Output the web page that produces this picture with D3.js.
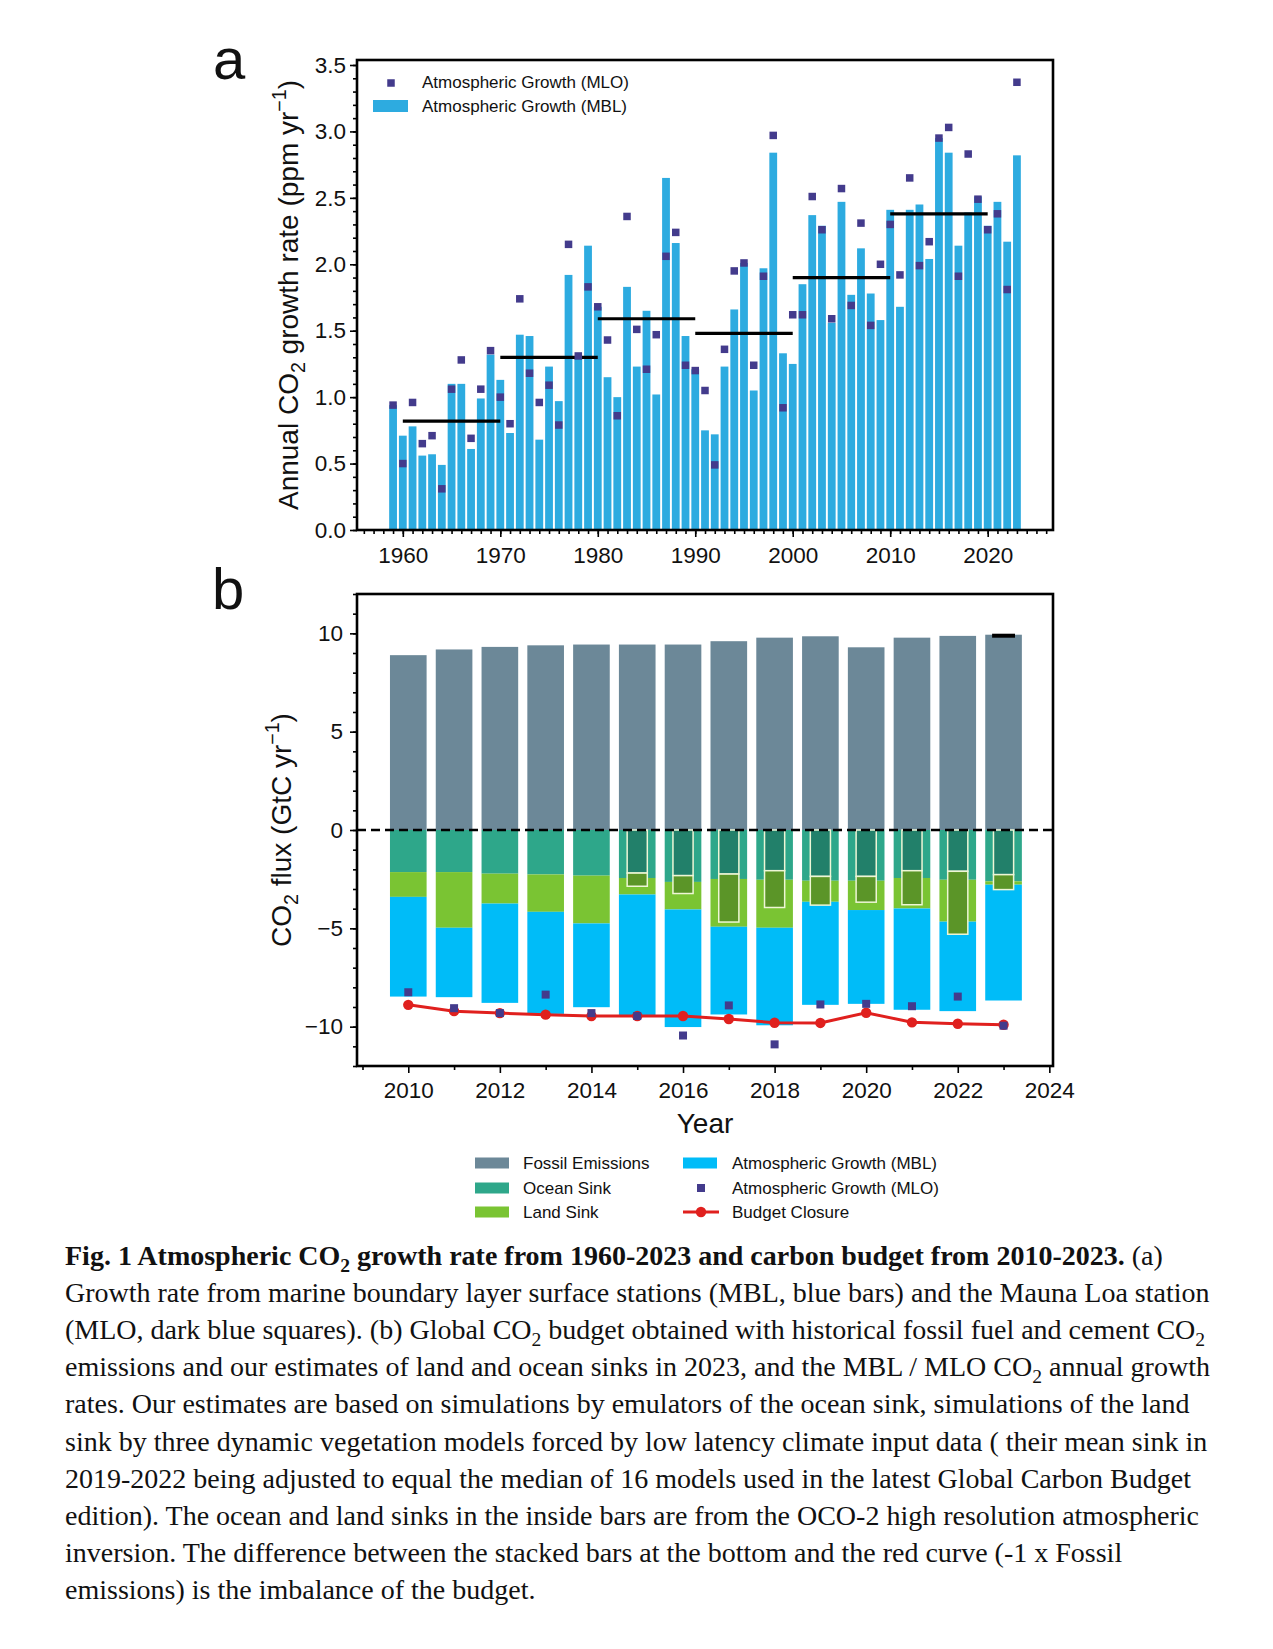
<!DOCTYPE html>
<html>
<head>
<meta charset="utf-8">
<script src="https://cdn.jsdelivr.net/npm/d3@7"></script>
<style>
  body { margin: 0; background: #fff; }
  svg { display: block; font-family: Arial, "Liberation Sans", sans-serif; }
</style>
</head>
<body>
<svg id="fig" width="1273" height="1649"></svg>
<script>
// ---- Panel a: annual growth rate (ppm / yr) ----
const yearsA = [1959, 1960, 1961, 1962, 1963, 1964, 1965, 1966, 1967, 1968, 1969,
    1970, 1971, 1972, 1973, 1974, 1975, 1976, 1977, 1978, 1979,
    1980, 1981, 1982, 1983, 1984, 1985, 1986, 1987, 1988, 1989,
    1990, 1991, 1992, 1993, 1994, 1995, 1996, 1997, 1998, 1999,
    2000, 2001, 2002, 2003, 2004, 2005, 2006, 2007, 2008, 2009,
    2010, 2011, 2012, 2013, 2014, 2015, 2016, 2017, 2018, 2019,
    2020, 2021, 2022, 2023];
const growthMBL = [0.94, 0.71, 0.78, 0.56, 0.57, 0.49, 1.10, 1.10, 0.61, 0.99, 1.32,
    1.13, 0.73, 1.47, 1.46, 0.68, 1.23, 0.97, 1.92, 1.31, 2.14,
    1.68, 1.15, 1.00, 1.83, 1.23, 1.65, 1.02, 2.65, 2.16, 1.46,
    1.21, 0.75, 0.72, 1.23, 1.66, 2.01, 1.05, 1.97, 2.84, 1.33,
    1.25, 1.85, 2.37, 2.29, 1.56, 2.47, 1.77, 2.12, 1.78, 1.58,
    2.41, 1.68, 2.41, 2.45, 2.04, 2.95, 2.84, 2.14, 2.39, 2.51,
    2.29, 2.47, 2.17, 2.82];
const growthMLO = [0.94, 0.50, 0.96, 0.65, 0.71, 0.31, 1.06, 1.28, 0.69, 1.06, 1.35,
    1.00, 0.80, 1.74, 1.18, 0.96, 1.09, 0.79, 2.15, 1.31, 1.83,
    1.68, 1.43, 0.86, 2.36, 1.51, 1.21, 1.47, 2.06, 2.24, 1.24,
    1.20, 1.05, 0.49, 1.36, 1.95, 2.01, 1.24, 1.91, 2.97, 0.92,
    1.62, 1.62, 2.51, 2.26, 1.59, 2.57, 1.69, 2.31, 1.54, 2.00,
    2.30, 1.92, 2.65, 1.99, 2.17, 2.95, 3.03, 1.91, 2.83, 2.49,
    2.26, 2.38, 1.81, 3.37];
const decadeStart = [1960, 1970, 1980, 1990, 2000, 2010];
const decadeEnd = [1970, 1980, 1990, 2000, 2010, 2020];
const decadeMean = [0.82, 1.30, 1.59, 1.48, 1.90, 2.38];

// ---- Panel b: carbon budget (GtC / yr) ----
const yearsB = [2010, 2011, 2012, 2013, 2014, 2015, 2016, 2017, 2018, 2019, 2020, 2021, 2022, 2023];
const fossil = [8.89, 9.18, 9.31, 9.39, 9.43, 9.43, 9.43, 9.60, 9.78, 9.85, 9.29, 9.78, 9.87, 9.93];
const oceanSink = [2.14, 2.14, 2.22, 2.26, 2.32, 2.44, 2.64, 2.49, 2.53, 2.58, 2.58, 2.44, 2.53, 2.61];
const landSink = [1.26, 2.83, 1.52, 1.90, 2.43, 0.84, 1.40, 2.43, 2.44, 1.07, 1.49, 1.55, 2.13, 0.17];
const atmGrowthMBL = [5.07, 3.53, 5.05, 5.19, 4.26, 6.17, 5.98, 4.46, 4.96, 5.24, 4.77, 5.15, 4.55, 5.89];
const atmGrowthMLOb = [-8.25, -9.06, -9.31, -8.37, -9.31, -9.46, -10.45, -8.92, -10.9, -8.87, -8.84, -8.96, -8.47, -9.95];
const budgetClosure = [-8.89, -9.21, -9.31, -9.39, -9.46, -9.46, -9.46, -9.61, -9.80, -9.81, -9.29, -9.78, -9.85, -9.90];
// OCO-2 inversion (inside bars)
const yearsInner = [2015, 2016, 2017, 2018, 2019, 2020, 2021, 2022, 2023];
const oceanInner = [2.19, 2.32, 2.24, 2.07, 2.36, 2.36, 2.07, 2.10, 2.27];
const landInner = [0.67, 0.91, 2.44, 1.87, 1.46, 1.31, 1.73, 3.20, 0.76];

const colors = {
    mblA: "#2dabe0",
    mlo: "#433b8c",
    fossil: "#6c8898",
    ocean: "#2ea78a",
    land: "#7ac433",
    atm: "#00bcf8",
    oceanIn: "#22806a",
    landIn: "#5b9528",
    red: "#e0201e"
};

const TICK_FS = 22.5;
const LABEL_FS = 28;

const svg = d3.select("#fig");
svg.append("rect").attr("width", 1273).attr("height", 1649).attr("fill", "#fff");

// rich text helper: parts = [text, "sub"|"sup"|null, bold]
function addRich(text, parts, fs) {
    let off = 0;
    parts.forEach(([str, kind, bold]) => {
        const target = kind === "sub" ? fs * 0.25 : kind === "sup" ? -fs * 0.42 : 0;
        text.append("tspan")
            .attr("dy", target - off)
            .attr("font-size", kind ? fs * 0.7 : fs)
            .attr("font-weight", bold ? "bold" : null)
            .text(str);
        off = target;
    });
}

function styleAxis(g, fs) {
    g.select(".domain").remove();
    g.selectAll(".tick line").attr("stroke", "#000").attr("stroke-width", 1.6);
    g.selectAll(".tick text").attr("font-size", fs).attr("fill", "#111")
        .attr("font-family", "Arial, 'Liberation Sans', sans-serif");
}

// ================= Panel a =================
const A = { left: 357, right: 1053, top: 60, bottom: 530 };
const xA = d3.scaleLinear().domain([1955.3, 2026.7]).range([A.left, A.right]);
const yA = d3.scaleLinear().domain([0, 3.5376]).range([A.bottom, A.top]);
const gA = svg.append("g");

// bars (MBL)
gA.selectAll("rect.mbl")
    .data(yearsA)
    .enter()
    .append("rect")
    .attr("class", "mbl")
    .attr("x", (d) => xA(d - 0.4))
    .attr("width", xA(0.8) - xA(0))
    .attr("y", (d, i) => yA(growthMBL[i]))
    .attr("height", (d, i) => yA(0) - yA(growthMBL[i]))
    .attr("fill", colors.mblA);

// decadal means
gA.selectAll("line.decade")
    .data(decadeMean)
    .enter()
    .append("line")
    .attr("x1", (d, i) => xA(decadeStart[i]))
    .attr("x2", (d, i) => xA(decadeEnd[i]))
    .attr("y1", (d) => yA(d))
    .attr("y2", (d) => yA(d))
    .attr("stroke", "#000")
    .attr("stroke-width", 3.2);

// MLO squares
const sqA = 7.5;
gA.selectAll("rect.mlo")
    .data(yearsA)
    .enter()
    .append("rect")
    .attr("x", (d) => xA(d) - sqA / 2)
    .attr("y", (d, i) => yA(growthMLO[i]) - sqA / 2)
    .attr("width", sqA)
    .attr("height", sqA)
    .attr("fill", colors.mlo);

// axes
gA.append("g")
    .attr("transform", `translate(0,${A.bottom})`)
    .call(d3.axisBottom(xA).tickValues(d3.range(1956, 2027)).tickSize(4).tickFormat(""))
    .call((g) => styleAxis(g, TICK_FS));
gA.append("g")
    .attr("transform", `translate(0,${A.bottom})`)
    .call(d3.axisBottom(xA).tickValues([1960, 1970, 1980, 1990, 2000, 2010, 2020]).tickSize(7).tickPadding(10).tickFormat(d3.format("d")))
    .call((g) => styleAxis(g, TICK_FS));
gA.append("g")
    .attr("transform", `translate(${A.left},0)`)
    .call(d3.axisLeft(yA).tickValues(d3.range(0, 3.51, 0.1)).tickSize(4).tickFormat(""))
    .call((g) => styleAxis(g, TICK_FS));
gA.append("g")
    .attr("transform", `translate(${A.left},0)`)
    .call(d3.axisLeft(yA).tickValues([0, 0.5, 1, 1.5, 2, 2.5, 3, 3.5]).tickSize(7).tickPadding(4).tickFormat(d3.format(".1f")))
    .call((g) => styleAxis(g, TICK_FS));

gA.append("rect")
    .attr("x", A.left).attr("y", A.top)
    .attr("width", A.right - A.left).attr("height", A.bottom - A.top)
    .attr("fill", "none").attr("stroke", "#000").attr("stroke-width", 2.6);

// y label
const labA = gA.append("text")
    .attr("transform", `translate(298,${(A.top + A.bottom) / 2}) rotate(-90)`)
    .attr("text-anchor", "middle")
    .attr("fill", "#111");
addRich(labA, [["Annual CO"], ["2", "sub"], [" growth rate (ppm yr"], ["\u22121", "sup"], [")"]], LABEL_FS);

// legend a
gA.append("rect").attr("x", 391 - sqA / 2).attr("y", 83 - sqA / 2).attr("width", sqA).attr("height", sqA).attr("fill", colors.mlo);
gA.append("rect").attr("x", 373).attr("y", 100).attr("width", 35).attr("height", 12).attr("fill", colors.mblA);
gA.append("text").attr("x", 422).attr("y", 82).attr("dy", "0.36em").attr("font-size", 17).attr("fill", "#111").text("Atmospheric Growth (MLO)");
gA.append("text").attr("x", 422).attr("y", 106).attr("dy", "0.36em").attr("font-size", 17).attr("fill", "#111").text("Atmospheric Growth (MBL)");

svg.append("text").attr("x", 213).attr("y", 79).attr("font-size", 58).attr("fill", "#111").text("a");

// ================= Panel b =================
const B = { left: 357, right: 1053, top: 594, bottom: 1066 };
const xB = d3.scaleLinear().domain([2008.88, 2024.08]).range([B.left, B.right]);
const yB = d3.scaleLinear().domain([-12, 12]).range([B.bottom, B.top]);
const gB = svg.append("g");

const rowsB = yearsB.map((y, i) => ({
    year: y,
    fossil: fossil[i],
    ocean: -oceanSink[i],
    land: -landSink[i],
    atm: -atmGrowthMBL[i]
}));
const keysB = ["fossil", "ocean", "land", "atm"];
const stackB = d3.stack().keys(keysB).offset(d3.stackOffsetDiverging)(rowsB);
const fillB = { fossil: colors.fossil, ocean: colors.ocean, land: colors.land, atm: colors.atm };

gB.selectAll("g.layer")
    .data(stackB)
    .enter()
    .append("g")
    .attr("fill", (s) => fillB[s.key])
    .selectAll("rect")
    .data((s) => s)
    .enter()
    .append("rect")
    .attr("x", (d) => xB(d.data.year - 0.4))
    .attr("width", xB(0.8) - xB(0))
    .attr("y", (d) => yB(Math.max(d[0], d[1])))
    .attr("height", (d) => Math.abs(yB(d[0]) - yB(d[1])));

// inside bars (OCO-2)
const rowsIn = yearsInner.map((y, i) => ({ year: y, ocean: -oceanInner[i], land: -landInner[i] }));
const stackIn = d3.stack().keys(["ocean", "land"]).offset(d3.stackOffsetDiverging)(rowsIn);
const fillIn = { ocean: colors.oceanIn, land: colors.landIn };
gB.selectAll("g.inner")
    .data(stackIn)
    .enter()
    .append("g")
    .attr("fill", (s) => fillIn[s.key])
    .selectAll("rect")
    .data((s) => s)
    .enter()
    .append("rect")
    .attr("x", (d) => xB(d.data.year - 0.22))
    .attr("width", xB(0.44) - xB(0))
    .attr("y", (d) => yB(Math.max(d[0], d[1])))
    .attr("height", (d) => Math.abs(yB(d[0]) - yB(d[1])))
    .attr("stroke", "#eef6d6")
    .attr("stroke-width", 1.5);

// fossil uncertainty mark on last year
const lastI = yearsB.length - 1;
gB.append("line")
    .attr("x1", xB(yearsB[lastI] - 0.25)).attr("x2", xB(yearsB[lastI] + 0.25))
    .attr("y1", yB(fossil[lastI]) + 1).attr("y2", yB(fossil[lastI]) + 1)
    .attr("stroke", "#000").attr("stroke-width", 4);

// zero line
gB.append("line")
    .attr("x1", B.left).attr("x2", B.right)
    .attr("y1", yB(0)).attr("y2", yB(0))
    .attr("stroke", "#000").attr("stroke-width", 2.4)
    .attr("stroke-dasharray", "9,5");

// budget closure line
gB.append("path")
    .datum(budgetClosure)
    .attr("fill", "none")
    .attr("stroke", colors.red)
    .attr("stroke-width", 3)
    .attr("d", d3.line().x((d, i) => xB(yearsB[i])).y((d) => yB(d)));
gB.selectAll("circle.closure")
    .data(budgetClosure)
    .enter()
    .append("circle")
    .attr("cx", (d, i) => xB(yearsB[i]))
    .attr("cy", (d) => yB(d))
    .attr("r", 5.2)
    .attr("fill", colors.red);

// MLO squares
const sqB = 8;
gB.selectAll("rect.mloB")
    .data(atmGrowthMLOb)
    .enter()
    .append("rect")
    .attr("x", (d, i) => xB(yearsB[i]) - sqB / 2)
    .attr("y", (d) => yB(d) - sqB / 2)
    .attr("width", sqB)
    .attr("height", sqB)
    .attr("fill", colors.mlo);

// axes
gB.append("g")
    .attr("transform", `translate(0,${B.bottom})`)
    .call(d3.axisBottom(xB).tickValues([2009, 2011, 2013, 2015, 2017, 2019, 2021, 2023]).tickSize(4).tickFormat(""))
    .call((g) => styleAxis(g, TICK_FS));
gB.append("g")
    .attr("transform", `translate(0,${B.bottom})`)
    .call(d3.axisBottom(xB).tickValues([2010, 2012, 2014, 2016, 2018, 2020, 2022, 2024]).tickSize(7).tickPadding(9).tickFormat(d3.format("d")))
    .call((g) => styleAxis(g, TICK_FS));
gB.append("g")
    .attr("transform", `translate(${B.left},0)`)
    .call(d3.axisLeft(yB).tickValues(d3.range(-12, 13, 1)).tickSize(4).tickFormat(""))
    .call((g) => styleAxis(g, TICK_FS));
gB.append("g")
    .attr("transform", `translate(${B.left},0)`)
    .call(d3.axisLeft(yB).tickValues([-10, -5, 0, 5, 10]).tickSize(7).tickPadding(7))
    .call((g) => styleAxis(g, TICK_FS));

gB.append("rect")
    .attr("x", B.left).attr("y", B.top)
    .attr("width", B.right - B.left).attr("height", B.bottom - B.top)
    .attr("fill", "none").attr("stroke", "#000").attr("stroke-width", 2.6);

const labB = gB.append("text")
    .attr("transform", `translate(291,${(B.top + B.bottom) / 2}) rotate(-90)`)
    .attr("text-anchor", "middle")
    .attr("fill", "#111");
addRich(labB, [["CO"], ["2", "sub"], [" flux (GtC yr"], ["\u22121", "sup"], [")"]], LABEL_FS);

gB.append("text")
    .attr("x", (B.left + B.right) / 2).attr("y", 1133)
    .attr("text-anchor", "middle").attr("font-size", LABEL_FS).attr("fill", "#111")
    .text("Year");

svg.append("text").attr("x", 212).attr("y", 609).attr("font-size", 58).attr("fill", "#111").text("b");

// legend b
const legB = svg.append("g").attr("font-size", 17).attr("fill", "#111");
const legRows = [1163, 1188, 1212];
[["Fossil Emissions", colors.fossil], ["Ocean Sink", colors.ocean], ["Land Sink", colors.land]].forEach(([t, c], i) => {
    legB.append("rect").attr("x", 475).attr("y", legRows[i] - 5.5).attr("width", 34).attr("height", 11).attr("fill", c);
    legB.append("text").attr("x", 523).attr("y", legRows[i]).attr("dy", "0.36em").text(t);
});
legB.append("rect").attr("x", 683).attr("y", legRows[0] - 5.5).attr("width", 34).attr("height", 11).attr("fill", colors.atm);
legB.append("rect").attr("x", 701 - 4).attr("y", legRows[1] - 4).attr("width", 8).attr("height", 8).attr("fill", colors.mlo);
legB.append("line").attr("x1", 683).attr("x2", 719).attr("y1", legRows[2]).attr("y2", legRows[2]).attr("stroke", colors.red).attr("stroke-width", 3);
legB.append("circle").attr("cx", 701).attr("cy", legRows[2]).attr("r", 5.2).attr("fill", colors.red);
["Atmospheric Growth (MBL)", "Atmospheric Growth (MLO)", "Budget Closure"].forEach((t, i) => {
    legB.append("text").attr("x", 732).attr("y", legRows[i]).attr("dy", "0.36em").text(t);
});

// ================= Caption =================
const captionLines = [
    [["Fig. 1 Atmospheric CO", null, true], ["2", "sub", true], [" growth rate from 1960-2023 and carbon budget from 2010-2023.", null, true], [" (a)"]],
    [["Growth rate from marine boundary layer surface stations (MBL, blue bars) and the Mauna Loa station"]],
    [["(MLO, dark blue squares). (b) Global CO"], ["2", "sub"], [" budget obtained with historical fossil fuel and cement CO"], ["2", "sub"]],
    [["emissions and our estimates of land and ocean sinks in 2023, and the MBL / MLO CO"], ["2", "sub"], [" annual growth"]],
    [["rates. Our estimates are based on simulations by emulators of the ocean sink, simulations of the land"]],
    [["sink by three dynamic vegetation models forced by low latency climate input data ( their mean sink in"]],
    [["2019-2022 being adjusted to equal the median of 16 models used in the latest Global Carbon Budget"]],
    [["edition). The ocean and land sinks in the inside bars are from the OCO-2 high resolution atmospheric"]],
    [["inversion. The difference between the stacked bars at the bottom and the red curve (-1 x Fossil"]],
    [["emissions) is the imbalance of the budget."]]
];
const capG = svg.append("g")
    .attr("font-family", "'Liberation Serif', 'Times New Roman', serif")
    .attr("fill", "#111");
captionLines.forEach((parts, i) => {
    const t = capG.append("text").attr("x", 65).attr("y", 1265 + i * 37.1);
    addRich(t, parts, 28);
});
</script>
</body>
</html>
